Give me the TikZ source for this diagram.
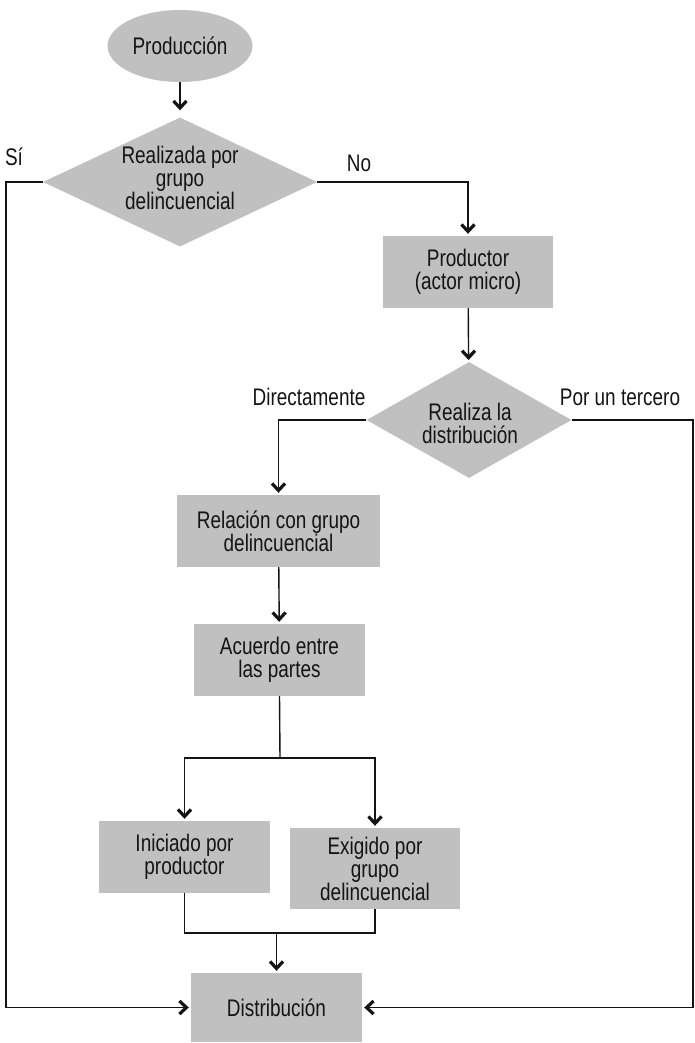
\documentclass[tikz,border=0pt]{standalone}
\usepackage{fontspec}
\setmainfont{Liberation Sans}[FakeStretch=0.79]
\usepackage{tikz}
\usetikzlibrary{arrows.meta, shapes.geometric, calc}
\definecolor{boxGray}{HTML}{C0C0C0}
\definecolor{inkGray}{HTML}{141414}

\tikzset{
  caja/.style={fill=boxGray, text=inkGray, align=center, inner sep=0pt,
    minimum width=#1, minimum height=72pt},
  ovalo/.style={ellipse, fill=boxGray, text=inkGray, inner sep=0pt,
    minimum width=145pt, minimum height=72pt},
  rombo/.style={diamond, fill=boxGray, inner sep=0pt},
  texto/.style={text=inkGray, align=center, inner sep=0pt},
  linea/.style={line width=1.4pt, inkGray},
  flecha/.style={linea, -{Straight Barb[length=7pt, width=13pt, line width=3.2pt]}, shorten >=2pt}
}

\begin{document}
\begin{tikzpicture}[x=1pt, y=-1pt, every node/.style={font=\fontsize{24}{23}\selectfont}]
  \useasboundingbox (0,0) rectangle (695,1043);

  \node[ovalo] (prod) at (180,46) {Producción};
  \node[rombo, minimum width=274pt, minimum height=129pt] (grupo) at (180,182) {};
  \node[texto] at (180,178) {Realizada por\\grupo\\delincuencial};
  \node[caja=170pt] (productor) at (468,272) {Productor\\(actor micro)};
  \node[rombo, minimum width=205pt, minimum height=116pt] (realiza) at (469,420) {};
  \node[texto] at (470,423) {Realiza la\\distribución};
  \node[caja=203pt] (relacion) at (278.5,531) {Relación con grupo\\delincuencial};
  \node[caja=171pt] (acuerdo) at (279.5,660) {Acuerdo entre\\las partes};
  \node[caja=171pt] (iniciado) at (184.5,857) {Iniciado por\\productor};
  \node[caja=170pt, minimum height=81pt] (exigido) at (375,868.5) {Exigido por\\grupo\\delincuencial};
  \node[caja=171pt, minimum height=69pt] (distrib) at (276.5,1007.5) {Distribución};

  \node[texto] (si) at (14,157) {Sí};
  \node[texto] (no) at (359,163) {No};
  \node[texto] (directo) at (309,397) {Directamente};
  \node[texto] (tercero) at (620,397) {Por un tercero};

  \coordinate (izq) at (6,1007.5);
  \coordinate (der) at (693,1007.5);
  \coordinate (rama) at (280,758);
  \coordinate (union) at (276.5,933);

  \draw[flecha, shorten >=7pt] (prod) -- (grupo);
  \draw[flecha] (grupo.west) -| (izq) -- (distrib.west);
  \draw[flecha] (grupo.east) -| (productor.north);
  \draw[flecha] (productor) -- (realiza);
  \draw[flecha] (realiza.west) -| (relacion.north);
  \draw[flecha] (realiza.east) -| (der) -- (distrib.east);
  \draw[flecha] (relacion) -- (acuerdo);
  \draw[linea] (acuerdo.south) -- (rama);
  \draw[flecha] (rama) -| (iniciado.north);
  \draw[flecha] (rama) -| (exigido.north);
  \draw[linea] (iniciado.south) |- (union) -| (exigido.south);
  \draw[flecha] (union) -- (distrib.north);
\end{tikzpicture}
\end{document}
